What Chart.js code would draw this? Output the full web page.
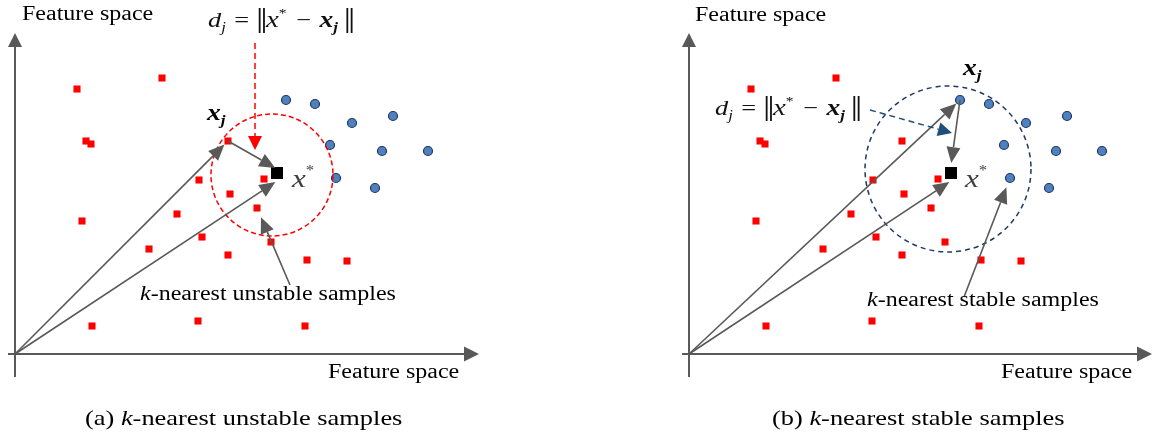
<!DOCTYPE html>
<html>
<head>
<meta charset="utf-8">
<script src="https://cdn.jsdelivr.net/npm/chart.js@4/dist/chart.umd.min.js"></script>
<style>
  body { margin: 0; background: #fff; width: 1153px; height: 441px; position: relative; overflow: hidden; }
  canvas { position: absolute; top: 0; }
  #panelA { left: 0; }
  #panelB { left: 675px; }
</style>
</head>
<body>
<canvas id="panelA" width="480" height="441"></canvas>
<canvas id="panelB" width="478" height="441"></canvas>
<script>
// samples in feature space (origin = corner of the axes)
const unstableX = [62, 147, 71, 76, 213, 184, 215, 249, 162, 67, 242, 187, 134, 213, 256, 292, 332, 77, 183, 290];
const unstableY = [265, 276, 213, 210, 213, 174, 160, 175, 140, 133, 146, 117, 105, 99, 112, 94, 93, 28, 33, 28];
const stableX = [271, 300, 337, 378, 315, 367, 413, 321, 360];
const stableY = [254, 250, 231, 238, 209, 203, 203, 176, 166];
const query = [262, 181]; // x*

// neighbourhood circles
const unstableCircle = { c: [257, 179], r: 61 };
const stableCircle = { c: [259, 185], r: 83 };

const serif = '"Liberation Serif", "Times New Roman", serif';
const f = (style, size) => style + ' ' + size + 'px ' + serif;
const GREY = '#595959';
const SX = 1.2; // text is a bit wide in this figure

const pts = (xs, ys) => xs.map((x, i) => ({ x: x, y: ys[i] }));
const unstablePts = pts(unstableX, unstableY);
const stablePts = pts(stableX, stableY);

function drawRich(ctx, x, y, parts, color) {
  ctx.save();
  ctx.translate(x, y);
  ctx.scale(SX, 1);
  ctx.textBaseline = 'alphabetic';
  ctx.textAlign = 'left';
  let cx = 0;
  parts.forEach(p => {
    cx += p.dx || 0;
    if (p.bars) {
      ctx.fillStyle = p.c || color;
      ctx.fillRect(cx, -19, 1.5, 25);
      ctx.fillRect(cx + 3.6, -19, 1.5, 25);
      cx += 5.1;
      return;
    }
    ctx.font = p.f;
    ctx.fillStyle = p.c || color;
    ctx.fillText(p.t, cx, p.dy || 0);
    cx += ctx.measureText(p.t).width;
  });
  ctx.restore();
}

function arrow(ctx, x1, y1, x2, y2, o) {
  const a = Math.atan2(y2 - y1, x2 - x1);
  const hl = o.head || 14, hw = o.hw || 6;
  const bx = x2 - hl * Math.cos(a), by = y2 - hl * Math.sin(a);
  ctx.save();
  ctx.strokeStyle = o.color;
  ctx.fillStyle = o.color;
  ctx.lineWidth = o.width || 1.5;
  ctx.setLineDash(o.dash || []);
  ctx.beginPath();
  ctx.moveTo(x1, y1);
  ctx.lineTo(bx, by);
  ctx.stroke();
  ctx.setLineDash([]);
  ctx.beginPath();
  ctx.moveTo(x2, y2);
  ctx.lineTo(bx + hw * Math.sin(a), by - hw * Math.cos(a));
  ctx.lineTo(bx - hw * Math.sin(a), by + hw * Math.cos(a));
  ctx.closePath();
  ctx.fill();
  ctx.restore();
}

const formula = [
  { t: 'd', f: f('italic', 22) },
  { t: 'j', f: f('italic', 14), dy: 5 },
  { t: '=', f: f('normal', 22), dx: 7 },
  { bars: true, dx: 8 },
  { t: 'x', f: f('italic', 24), dx: 1 },
  { t: '*', f: f('normal', 13), dy: -10 },
  { t: '\u2212', f: f('normal', 22), dx: 8 },
  { t: 'x', f: f('bold italic', 23), dx: 7 },
  { t: 'j', f: f('bold italic', 14), dy: 5 },
  { bars: true, dx: 7 }
];
const xjLabel = [
  { t: 'x', f: f('bold italic', 23) },
  { t: 'j', f: f('bold italic', 14), dy: 5 }
];
const xsLabel = [
  { t: 'x', f: f('italic', 26) },
  { t: '*', f: f('normal', 14), dy: -12 }
];
const kText = (rest, size) => [
  { t: 'k', f: f('italic', size) },
  { t: rest, f: f('normal', size) }
];

function annotations(cfg) {
  return {
    id: 'annot',
    beforeDatasetsDraw(chart) {
      const ctx = chart.ctx, xs = chart.scales.x, ys = chart.scales.y;
      const X = v => xs.getPixelForValue(v), Y = v => ys.getPixelForValue(v);
      // feature-space axes
      arrow(ctx, X(-7), Y(0), xs.right - 1, Y(0), { color: GREY, width: 2, head: 15, hw: 7.5 });
      arrow(ctx, X(0), Y(-23), X(0), Y(321), { color: GREY, width: 2, head: 14, hw: 7 });
    },
    afterDatasetsDraw(chart) {
      const ctx = chart.ctx, xs = chart.scales.x, ys = chart.scales.y;
      const X = v => xs.getPixelForValue(v), Y = v => ys.getPixelForValue(v);
      const k = xs.getPixelForValue(1) - xs.getPixelForValue(0);

      // dashed neighbourhood
      const c = cfg.circle;
      ctx.save();
      ctx.strokeStyle = cfg.circleColor;
      ctx.lineWidth = 1.5;
      ctx.setLineDash(cfg.circleDash);
      ctx.beginPath();
      ctx.arc(X(c.c[0]), Y(c.c[1]), c.r * k, 0, Math.PI * 2);
      ctx.stroke();
      ctx.restore();

      // vectors and pointers
      cfg.arrows.forEach(a => {
        const dx = a.to[0] - a.from[0], dy = a.to[1] - a.from[1];
        const len = Math.hypot(dx, dy), g = a.gap || 0;
        const tx = a.to[0] - dx / len * g, ty = a.to[1] - dy / len * g;
        arrow(ctx, X(a.from[0]), Y(a.from[1]), X(tx), Y(ty), a.style);
      });

      cfg.texts.forEach(t => drawRich(ctx, t.x, t.y, t.parts, t.color || '#000'));
    }
  };
}

function makePanel(id, xMin, xMax, cfg) {
  return new Chart(document.getElementById(id), {
    type: 'scatter',
    data: {
      datasets: [
        { data: unstablePts, pointStyle: 'rect', pointRadius: 5, backgroundColor: '#ff0000', borderWidth: 0 },
        { data: stablePts, pointStyle: 'circle', pointRadius: 4.5, backgroundColor: '#4f81bd', borderColor: '#1f3864', borderWidth: 1.2 },
        { data: [{ x: query[0], y: query[1] }], pointStyle: 'rect', pointRadius: 8.5, backgroundColor: '#000', borderWidth: 0 }
      ]
    },
    options: {
      responsive: false,
      animation: false,
      events: [],
      layout: { padding: 0, autoPadding: false },
      scales: {
        x: { type: 'linear', min: xMin, max: xMax, display: false },
        y: { type: 'linear', min: -87, max: 354, display: false }
      },
      plugins: { legend: { display: false }, tooltip: { enabled: false } }
    },
    plugins: [annotations(cfg)]
  });
}

const vec = { color: GREY, width: 1.6, head: 16, hw: 7 };
const origin = [0, 0];

// (a) neighbours among unstable samples
const xjA = [unstableX[4], unstableY[4]];
makePanel('panelA', -15, 465, {
  circle: unstableCircle,
  circleColor: '#ff0000',
  circleDash: [5, 3],
  arrows: [
    { from: origin, to: xjA, gap: 5, style: vec },
    { from: origin, to: [query[0], query[1] - 8], gap: 2, style: vec },
    { from: xjA, to: [query[0], query[1] + 4], gap: 2, style: vec },
    { from: [275, 69], to: [unstableX[10], unstableY[10]], gap: 10, style: vec },
    { from: [240, 311], to: [240, 204], style: { color: '#ff0000', width: 1.5, head: 14, hw: 7, dash: [6, 4] } }
  ],
  texts: [
    { x: 22, y: 20, parts: [{ t: 'Feature space', f: f('normal', 20) }] },
    { x: 328, y: 378, parts: [{ t: 'Feature space', f: f('normal', 20) }] },
    { x: 208, y: 27, parts: formula, color: '#111' },
    { x: 207, y: 120, parts: xjLabel },
    { x: 292, y: 187, parts: xsLabel, color: '#404040' },
    { x: 140, y: 300, parts: kText('-nearest unstable samples', 20) },
    { x: 85, y: 425, parts: [{ t: '(a) ', f: f('normal', 22) }].concat(kText('-nearest unstable samples', 22)) }
  ]
});

// (b) neighbours among stable samples
const xjB = [stableX[0], stableY[0]];
makePanel('panelB', -14, 464, {
  circle: stableCircle,
  circleColor: '#1f3864',
  circleDash: [5, 4],
  arrows: [
    { from: origin, to: xjB, gap: 5, style: vec },
    { from: origin, to: [query[0], query[1] - 8], gap: 2, style: vec },
    { from: xjB, to: [query[0], query[1] + 8], gap: 2, style: vec },
    { from: [275, 57], to: [stableX[7], stableY[7]], gap: 10, style: vec },
    { from: [181, 244], to: [263, 221], style: { color: '#1f4e79', width: 1.5, head: 14, hw: 7, dash: [6, 4] } }
  ],
  texts: [
    { x: 20, y: 21, parts: [{ t: 'Feature space', f: f('normal', 20) }] },
    { x: 326, y: 378, parts: [{ t: 'Feature space', f: f('normal', 20) }] },
    { x: 40, y: 115, parts: formula, color: '#111' },
    { x: 288, y: 75, parts: xjLabel },
    { x: 290, y: 187, parts: xsLabel, color: '#404040' },
    { x: 192, y: 306, parts: kText('-nearest stable samples', 20) },
    { x: 97, y: 425, parts: [{ t: '(b) ', f: f('normal', 22) }].concat(kText('-nearest stable samples', 22)) }
  ]
});
</script>
</body>
</html>
